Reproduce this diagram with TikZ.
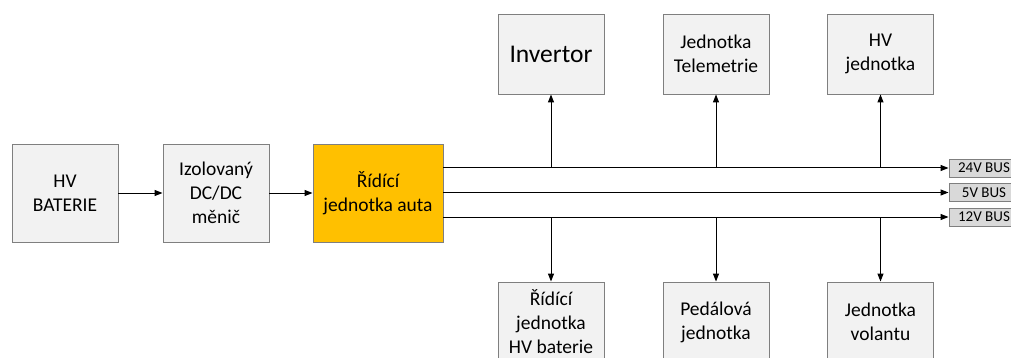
\documentclass[tikz,border=0pt]{standalone}
\usepackage{fontspec}
\setmainfont{Carlito}
\usetikzlibrary{arrows.meta}
\definecolor{boxfill}{HTML}{F2F2F2}
\definecolor{boxline}{HTML}{7F7F7F}
\definecolor{busfill}{HTML}{D9D9D9}
\definecolor{ctrl}{HTML}{FFC000}
\begin{document}
\begin{tikzpicture}[x=1pt,y=-1pt,
  block/.style={draw=boxline, fill=boxfill, line width=0.9pt,
    minimum width=106pt, minimum height=80pt, align=center, inner sep=0pt,
    font=\fontsize{19.5}{24}\selectfont},
  tallblock/.style={block, minimum height=98pt},
  busbox/.style={draw=boxline, fill=busfill, line width=0.9pt,
    minimum width=70pt, minimum height=18pt, inner sep=0pt,
    font=\fontsize{15}{17}\selectfont},
  arr/.style={line width=1pt, -{Triangle[length=8pt,width=6pt]}},
  bus/.style={line width=1pt, -{Triangle[length=8pt,width=6pt]}}]
\useasboundingbox (0,0) rectangle (1011,358);
\clip (0,0) rectangle (1011,358);

% power chain
\node[tallblock] (hvbat) at (65,193) {HV\\BATERIE};
\node[tallblock] (izol) at (216,193) {Izolovaný\\DC/DC\\měnič};
\node[tallblock, fill=ctrl, minimum width=130pt] (ridici) at (378,193) {Řídící\\jednotka auta};

% units above the bus
\node[block, font=\fontsize{25.5}{30}\selectfont] (inv) at (551,54) {Invertor};
\node[block] (tele) at (716,54) {Jednotka\\Telemetrie};
\node[block] (hvj) at (880.5,54) {HV\\jednotka};

% units below the bus
\node[block] (ridbat) at (551,322) {Řídící\\jednotka\\HV baterie};
\node[block] (pedal) at (716,322) {Pedálová\\jednotka};
\node[block] (volant) at (880.5,322) {Jednotka\\volantu};

% bus labels
\node[busbox] (bus24) at (984,168) {24V BUS};
\node[busbox] (bus5) at (984,192.5) {5V BUS};
\node[busbox] (bus12) at (984,217) {12V BUS};

% connections
\draw[arr] (hvbat) -- (izol);
\draw[arr] (izol) -- (ridici);

\draw[bus] (ridici.east |- bus24.west) -- (bus24.west);
\draw[bus] (ridici.east |- bus5.west) -- (bus5.west);
\draw[bus] (ridici.east |- bus12.west) -- (bus12.west);

\draw[arr] (inv.south |- bus24.west) -- (inv.south);
\draw[arr] (tele.south |- bus24.west) -- (tele.south);
\draw[arr] (hvj.south |- bus24.west) -- (hvj.south);

\draw[arr] (ridbat.north |- bus12.west) -- (ridbat.north);
\draw[arr] (pedal.north |- bus12.west) -- (pedal.north);
\draw[arr] (volant.north |- bus12.west) -- (volant.north);
\end{tikzpicture}
\end{document}
